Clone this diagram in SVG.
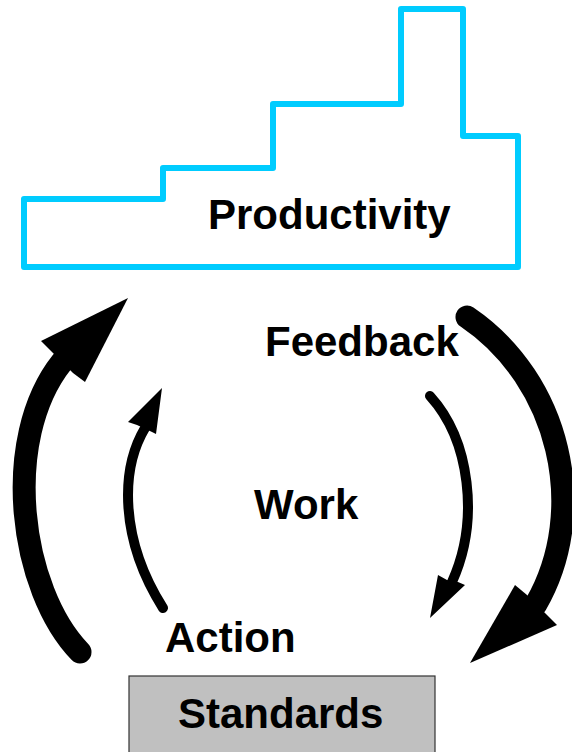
<svg xmlns="http://www.w3.org/2000/svg" width="572" height="752" viewBox="0 0 572 752">
<style>
.lbl{font-family:"Liberation Sans",Arial,sans-serif;font-weight:bold;font-size:42px;fill:#000}
.shaft{fill:none;stroke:#000;stroke-linecap:round}
.head{fill:#000;stroke:none}
</style>
<rect width="572" height="752" fill="#fff"/>
<g id="productivity">
<polygon points="24,199 163,199 163,168 273,168 273,104 401,104 401,9 463,9 463,136 518,136 518,267 24,267" fill="none" stroke="#00CCFF" stroke-width="6" stroke-linejoin="round"/>
<text class="lbl" x="208" y="229">Productivity</text>
</g>
<g id="standards">
<rect x="129" y="676" width="306" height="90" fill="#C0C0C0" stroke="#333" stroke-width="1.2"/>
<text class="lbl" x="178" y="728">Standards</text>
</g>
<g id="connectors">
<path class="shaft" stroke-width="23" d="M80,652 C20,590 0,440 62,362"/>
<polygon class="head" points="128,298 41,341 52,352 73,373 85,382"/>
<path class="shaft" stroke-width="10" d="M163,608 C120,540 120,470 145,428"/>
<polygon class="head" points="162,388 128,422 137,425 152,432 156,434"/>
<path class="shaft" stroke-width="23" d="M467,317 C560,380 590,510 536,604"/>
<polygon class="head" points="470,663 515,585 527,595 545,613 557,625"/>
<path class="shaft" stroke-width="10" d="M430,396 C470,440 480,520 452,582"/>
<polygon class="head" points="430,618 438,575 447,580 458,582 465,585"/>
</g>
<g id="labels">
<text class="lbl" x="265" y="356">Feedback</text>
<text class="lbl" x="254" y="519">Work</text>
<text class="lbl" x="165" y="652">Action</text>
</g>
</svg>
